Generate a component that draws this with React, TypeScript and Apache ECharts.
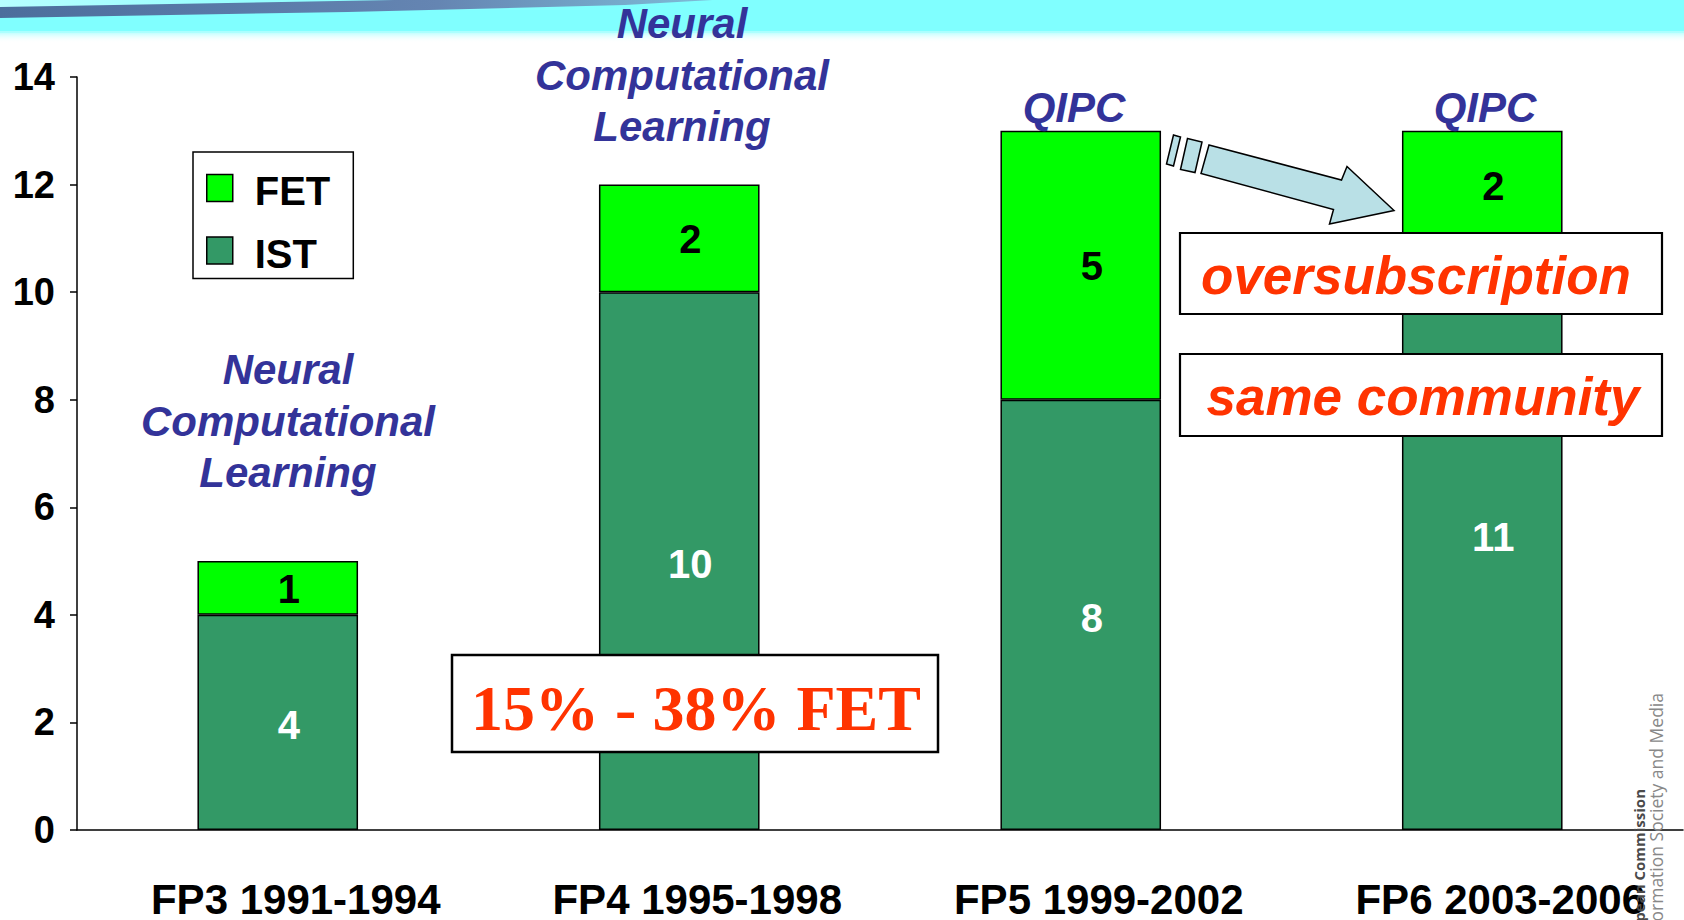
import React, { useEffect, useRef } from "react";
import * as echarts from "echarts";

const categories = ["FP3 1991-1994", "FP4 1995-1998", "FP5 1999-2002", "FP6 2003-2006"];
const istValues = [4, 10, 8, 11];
const fetValues = [1, 2, 5, 2];
const seriesNames = ["FET", "IST"];
const yMin = 0;
const yMax = 14;
const yInterval = 2;
const topicLabels = [
  "Neural\nComputational\nLearning",
  "Neural\nComputational\nLearning",
  "QIPC",
  "QIPC",
];
const noteShare = "15% - 38% FET";
const noteOver = "oversubscription";
const noteCommunity = "same community";
const logoLine1 = "European Commission";
const logoLine2 = "Information Society and Media";

const SANS = "'Liberation Sans', Arial, Helvetica, sans-serif";
const SERIF = "'Liberation Serif', 'Times New Roman', serif";
const FET_COLOR = "#00FF00";
const IST_COLOR = "#339966";
const BLUE_TEXT = "#333399";
const RED_TEXT = "#FF3300";

export default function App() {
  const ref = useRef<HTMLDivElement>(null);

  useEffect(() => {
    document.body.style.margin = "0";
    document.body.style.overflow = "hidden";
    if (!ref.current) return;
    const chart = echarts.init(ref.current, undefined, { renderer: "svg" });

    const topicPos = [
      { x: 288, y: 421 },
      { x: 682, y: 75 },
      { x: 1074, y: 107 },
      { x: 1485, y: 107 },
    ];

    const graphics: any[] = [
      // banner
      {
        type: "rect",
        z: -10,
        silent: true,
        shape: { x: 0, y: 0, width: 1684, height: 33 },
        style: { fill: "#80FFFF" },
      },
      {
        type: "rect",
        z: -10,
        silent: true,
        shape: { x: 0, y: 0, width: 700, height: 10 },
        style: {
          fill: new echarts.graphic.LinearGradient(0, 0, 1, 0, [
            { offset: 0, color: "#B8FFFF" },
            { offset: 1, color: "rgba(128,255,255,0)" },
          ]),
        },
      },
      {
        type: "rect",
        z: -10,
        silent: true,
        shape: { x: 0, y: 31, width: 1684, height: 12 },
        style: {
          fill: new echarts.graphic.LinearGradient(0, 0, 0, 1, [
            { offset: 0, color: "#A8FFFF" },
            { offset: 1, color: "rgba(255,255,255,0)" },
          ]),
        },
      },
      {
        type: "polygon",
        z: -9,
        silent: true,
        shape: {
          points: [
            [0, 7],
            [450, -1],
            [730, -1],
            [625, 5],
            [348, 12],
            [0, 18],
          ],
        },
        style: {
          fill: new echarts.graphic.LinearGradient(0, 0, 1, 0, [
            { offset: 0, color: "#4C6E9C" },
            { offset: 0.6, color: "#6585B2" },
            { offset: 1, color: "#7FC0DA" },
          ]),
        },
      },
      // topic annotations
      ...topicLabels.map((t, i) => ({
        type: "text",
        z: 100,
        x: topicPos[i].x,
        y: topicPos[i].y,
        style: {
          text: t,
          fill: BLUE_TEXT,
          font: `italic bold 42px ${SANS}`,
          align: "center",
          verticalAlign: "middle",
          lineHeight: 51.5,
        },
      })),
      // share box
      {
        type: "rect",
        z: 100,
        shape: { x: 452, y: 655, width: 486, height: 97 },
        style: { fill: "#fff", stroke: "#000", lineWidth: 2.5 },
      },
      {
        type: "text",
        z: 101,
        x: 696,
        y: 708,
        style: {
          text: noteShare,
          fill: RED_TEXT,
          font: `bold 64px ${SERIF}`,
          align: "center",
          verticalAlign: "middle",
        },
      },
      // arrow
      {
        type: "polygon",
        z: 100,
        shape: {
          points: [
            [1209, 145],
            [1341.5, 180],
            [1347, 166.5],
            [1394, 210.5],
            [1329.5, 224],
            [1333.5, 209.5],
            [1201, 173.5],
          ],
        },
        style: { fill: "#B9E0E6", stroke: "#000", lineWidth: 1.5 },
      },
      {
        type: "polygon",
        z: 100,
        shape: { points: [[1173.5, 135], [1180.5, 137], [1173.5, 166], [1166.5, 164]] },
        style: { fill: "#B9E0E6", stroke: "#000", lineWidth: 1.5 },
      },
      {
        type: "polygon",
        z: 100,
        shape: { points: [[1187.5, 138.5], [1202, 142], [1195, 172.5], [1180.5, 169.5]] },
        style: { fill: "#B9E0E6", stroke: "#000", lineWidth: 1.5 },
      },
      // oversubscription box
      {
        type: "rect",
        z: 100,
        shape: { x: 1180, y: 233, width: 482, height: 81 },
        style: { fill: "#fff", stroke: "#000", lineWidth: 2.2 },
      },
      {
        type: "text",
        z: 101,
        x: 1416,
        y: 275,
        style: {
          text: noteOver,
          fill: RED_TEXT,
          font: `italic bold 53px ${SANS}`,
          align: "center",
          verticalAlign: "middle",
        },
      },
      {
        type: "rect",
        z: 100,
        shape: { x: 1180, y: 354, width: 482, height: 82 },
        style: { fill: "#fff", stroke: "#000", lineWidth: 2.2 },
      },
      {
        type: "text",
        z: 101,
        x: 1423,
        y: 396,
        style: {
          text: noteCommunity,
          fill: RED_TEXT,
          font: `italic bold 53px ${SANS}`,
          align: "center",
          verticalAlign: "middle",
        },
      },
      // logo text
      {
        type: "text",
        z: 101,
        x: 1639,
        y: 789,
        rotation: Math.PI / 2,
        style: {
          text: logoLine1,
          fill: "#4a4a4a",
          font: `bold 15px 'Open Sans', 'DejaVu Sans', sans-serif`,
          align: "right",
          verticalAlign: "middle",
        },
      },
      {
        type: "text",
        z: 101,
        x: 1656,
        y: 693,
        rotation: Math.PI / 2,
        style: {
          text: logoLine2,
          fill: "#888",
          font: `17.5px 'Open Sans', 'DejaVu Sans', sans-serif`,
          align: "right",
          verticalAlign: "middle",
        },
      },
    ];

    const labelBase = {
      show: true,
      position: "inside",
      fontFamily: SANS,
      fontWeight: "bold",
      fontSize: 40,
    };

    chart.setOption({
      animation: false,
      backgroundColor: "#fff",
      grid: { left: 77, right: 1, top: 77, bottom: 90, containLabel: false },
      legend: {
        data: seriesNames,
        orient: "vertical",
        left: 193,
        top: 152,
        padding: [19, 23, 5, 13],
        itemWidth: 26,
        itemHeight: 33,
        itemGap: 22.5,
        icon: "path://M0,0L26,0L26,27L0,27Z M0,33",
        symbolKeepAspect: true,
        backgroundColor: "#fff",
        borderColor: "#000",
        borderWidth: 1.5,
        itemStyle: { borderColor: "#000", borderWidth: 1.5 },
        textStyle: {
          fontFamily: SANS,
          fontWeight: "bold",
          fontSize: 40,
          lineHeight: 40,
          color: "#000",
          padding: [0, 0, 0, 17],
        },
      },
      xAxis: {
        type: "category",
        data: categories,
        axisLine: { lineStyle: { color: "#000", width: 1.5 } },
        axisTick: { length: 13, lineStyle: { color: "#000", width: 1.5 } },
        axisLabel: {
          color: "#000",
          fontFamily: SANS,
          fontWeight: "bold",
          fontSize: 42,
          lineHeight: 30,
          margin: 54,
          padding: [0, 0, 0, 36],
        },
      },
      yAxis: {
        type: "value",
        min: yMin,
        max: yMax,
        interval: yInterval,
        splitLine: { show: false },
        axisLine: { show: true, lineStyle: { color: "#000", width: 1.5 } },
        axisTick: { show: true, length: 7, lineStyle: { color: "#000", width: 1.5 } },
        axisLabel: {
          color: "#000",
          fontFamily: SANS,
          fontWeight: "bold",
          fontSize: 38,
          margin: 22,
        },
      },
      series: [
        {
          name: "IST",
          type: "bar",
          stack: "total",
          barWidth: "40%",
          data: istValues,
          itemStyle: { color: IST_COLOR, borderColor: "#000", borderWidth: 1.5 },
          label: { ...labelBase, offset: [11, 3], color: "#fff" },
        },
        {
          name: "FET",
          type: "bar",
          stack: "total",
          barWidth: "40%",
          data: fetValues,
          itemStyle: { color: FET_COLOR, borderColor: "#000", borderWidth: 1.5 },
          label: { ...labelBase, offset: [11, 1], color: "#000" },
        },
      ],
      graphic: graphics,
    });

    return () => chart.dispose();
  }, []);

  return <div ref={ref} style={{ width: 1684, height: 920 }} />;
}
